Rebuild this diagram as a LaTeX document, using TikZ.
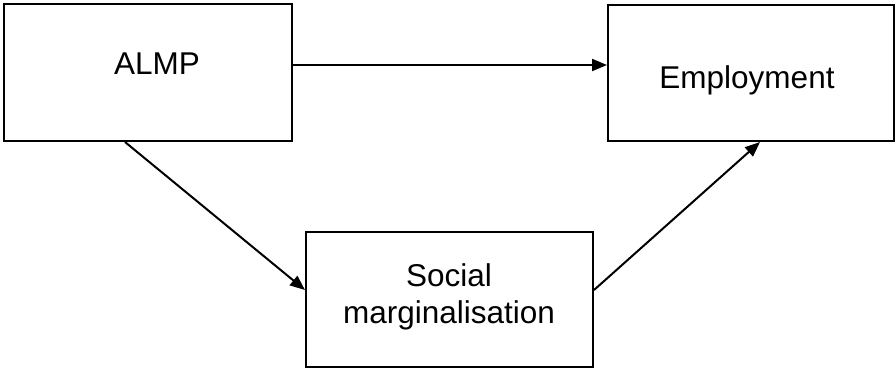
\documentclass[tikz,border=0pt]{standalone}
\usepackage{fontspec}
\setmainfont{Liberation Sans}
\usetikzlibrary{arrows.meta,positioning}

\begin{document}
\begin{tikzpicture} [x=1pt, y=-1pt,
  box/.style={draw, line width=2pt, inner sep=0pt},
  lbl/.style={font=\fontsize{31.5}{37}\selectfont, inner sep=0pt, align=center},
  arr/.style={line width=2pt, -{Triangle[length=15pt, width=12pt]}}]
%\draw [help lines, step=10pt](0,0) grid (896,370);
\useasboundingbox (0,0) rectangle (896,370);

\node [box, minimum width=288pt, minimum height=137pt] (almp) at (148,72.5) {};
\node [box, minimum width=286pt, minimum height=136pt] (empl) at (751,73) {};
\node [box, minimum width=287pt, minimum height=135pt] (social) at (449.5,299.5) {};

\node [lbl, anchor=base] (almptxt) at (157,74) {ALMP};
\node [lbl, anchor=base] (empltxt) at (747,88.5) {Employment};
\node [lbl] (socialtxt) at (449,296.5) {Social\\marginalisation};

\draw [arr] ([yshift=7.5pt]almp.east) -- ([yshift=8pt]empl.west);
\draw [arr] ([xshift=-23pt]almp.south) -- ([yshift=9.5pt]social.west);
\draw [arr] ([yshift=9.5pt]social.east) -- ([xshift=9pt]empl.south);

\end{tikzpicture}
\end{document}
